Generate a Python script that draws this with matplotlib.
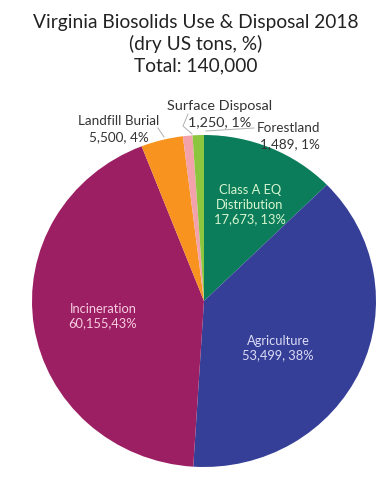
import matplotlib
matplotlib.use("Agg")
import matplotlib.pyplot as plt

categories = ["Class A EQ\nDistribution", "Agriculture", "Incineration", "Landfill Burial", "Surface Disposal", "Forestland"]
values = [17673, 53499, 60155, 5500, 1250, 1489]
value_labels = ["17,673, 13%", "53,499, 38%", "60,155,43%", "5,500, 4%", "1,250, 1%", "1,489, 1%"]
colors = ["#0b7d5b", "#363f97", "#9c1f63", "#f7931e", "#f3a2ab", "#8cc63f"]
title = "Virginia Biosolids Use & Disposal 2018\n(dry US tons, %)\nTotal: 140,000"

plt.rcParams['font.family'] = ['Lato', 'DejaVu Sans']

W, H = 391, 502
fig = plt.figure(figsize=(W/100, H/100), dpi=100)
fig.patch.set_facecolor("white")

def fx(x): return x / W
def fy(y): return 1 - y / H

cx, cy, rx, ry = 204, 302, 172, 166
ax = fig.add_axes([fx(cx - rx), fy(cy + ry), 2*rx/W, 2*ry/H])
ax.pie(values, colors=colors, startangle=90, counterclock=False,
       wedgeprops=dict(linewidth=0))
ax.set_aspect('auto')
ax.set_xlim(-1, 1)
ax.set_ylim(-1, 1)
ax.axis('off')

fig.text(0.5, fy(44), title, ha='center', va='center', fontsize=13.8,
         color='#222222', linespacing=1.3)

# inside labels
fig.text(fx(250), fy(205), categories[0] + "\n" + value_labels[0], ha='center', va='center',
         fontsize=9.3, color='#d8f5d0', linespacing=1.25)
fig.text(fx(278), fy(348), categories[1] + "\n" + value_labels[1], ha='center', va='center',
         fontsize=9.3, color='#dcdcf5', linespacing=1.25)
fig.text(fx(103), fy(316), categories[2] + "\n" + value_labels[2], ha='center', va='center',
         fontsize=9.3, color='#f7cde0', linespacing=1.25)

# outside labels
fig.text(fx(119), fy(129), categories[3] + "\n" + value_labels[3], ha='center', va='center',
         fontsize=9.7, color='#333333', linespacing=1.4)
fig.text(fx(220), fy(114), categories[4] + "\n" + value_labels[4], ha='center', va='center',
         fontsize=10.4, color='#333333', linespacing=1.35)
fig.text(fx(320), fy(136), categories[5] + "\n" + value_labels[5], ha='right', va='center',
         fontsize=9.7, color='#333333', linespacing=1.4, multialignment='right')

# leader lines
lc = '#b0b0b0'
fig.add_artist(plt.Line2D([fx(158), fx(164)], [fy(129), fy(138)], color=lc, lw=0.7))
fig.add_artist(plt.Line2D([fx(188), fx(183), fx(192)], [fy(115), fy(127), fy(135)], color=lc, lw=0.7))
fig.add_artist(plt.Line2D([fx(254), fx(206)], [fy(129), fy(132)], color=lc, lw=0.7))

fig.savefig("out.png", dpi=100)
